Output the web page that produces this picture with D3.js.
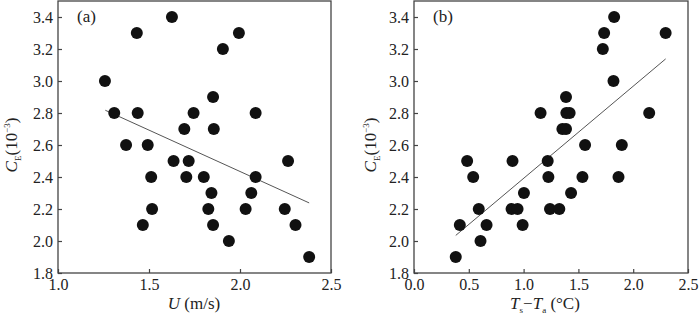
<!DOCTYPE html>
<html>
<head>
<meta charset="UTF-8">
<title>CE scatter</title>
<script src="https://cdn.jsdelivr.net/npm/d3@7"></script>
<style>
body { margin:0; background:#fff; }
svg { display:block; }
svg text { font-family:"Liberation Serif","Times New Roman",serif; }
</style>
</head>
<body>
<svg width="700" height="315"></svg>
<script>
// panel (a): wind speed U vs CE
const uVals = [1.626,1.433,1.994,1.906,1.258,1.309,1.438,1.745,2.086,1.852,1.694,1.856,1.374,1.493,
  1.635,1.718,2.264,1.512,1.705,1.801,2.086,1.843,2.062,1.517,1.826,2.031,2.246,1.466,1.852,2.305,1.939,2.380];
const ceA = [3.4,3.3,3.3,3.2,3.0,2.8,2.8,2.8,2.8,2.9,2.7,2.7,2.6,2.6,
  2.5,2.5,2.5,2.4,2.4,2.4,2.4,2.3,2.3,2.2,2.2,2.2,2.2,2.1,2.1,2.1,2.0,1.9];
const fitA = [[1.26,2.817],[2.38,2.238]];

// panel (b): Ts - Ta vs CE
const dtVals = [1.826,1.735,2.296,1.723,1.820,1.387,1.155,1.39,1.42,2.146,1.354,1.387,1.561,1.896,
  0.485,0.899,1.220,0.540,1.226,1.537,1.866,1.003,1.433,0.591,0.89,0.945,1.241,1.326,0.418,0.662,0.991,0.607,0.381];
const ceB = [3.4,3.3,3.3,3.2,3.0,2.9,2.8,2.8,2.8,2.8,2.7,2.7,2.6,2.6,
  2.5,2.5,2.5,2.4,2.4,2.4,2.4,2.3,2.3,2.2,2.2,2.2,2.2,2.2,2.1,2.1,2.1,2.0,1.9];
const fitB = [[0.381,2.035],[2.296,3.138]];

const yTicks = [1.8,2.0,2.2,2.4,2.6,2.8,3.0,3.2,3.4];
const xTicks = [0,0.5,1.0,1.5,2.0,2.5];

const svg = d3.select('svg');
const y = d3.scaleLinear().domain([1.8,3.5]).range([273,1]);

function panel(x0, x1, xDomain, xs, ys, fit, tag) {
  const x = d3.scaleLinear().domain(xDomain).range([x0,x1]);
  const g = svg.append('g');
  const xt = xTicks.filter(t => t >= xDomain[0] - 1e-9);
  g.append('g').attr('transform','translate(0,273)')
    .call(d3.axisBottom(x).tickValues(xt).tickFormat(d3.format('.1f')).tickSizeInner(-4).tickSizeOuter(0).tickPadding(6))
    .call(a => a.select('.domain').remove());
  g.append('g').attr('transform',`translate(${x0},0)`)
    .call(d3.axisLeft(y).tickValues(yTicks).tickFormat(d3.format('.1f')).tickSizeInner(-4).tickSizeOuter(0).tickPadding(5))
    .call(a => a.select('.domain').remove());
  g.selectAll('g').attr('font-family',null).attr('font-size',16);
  g.selectAll('.tick line').attr('stroke','#444').attr('stroke-width',1.2);
  g.selectAll('.tick text').attr('fill','#222');
  g.append('rect').attr('x',x0).attr('y',1).attr('width',x1-x0).attr('height',272)
    .attr('fill','none').attr('stroke','#444').attr('stroke-width',1.3);
  g.append('line')
    .attr('x1',x(fit[0][0])).attr('y1',y(fit[0][1]))
    .attr('x2',x(fit[1][0])).attr('y2',y(fit[1][1]))
    .attr('stroke','#555').attr('stroke-width',1);
  g.selectAll('circle').data(xs).enter().append('circle')
    .attr('cx',d => x(d)).attr('cy',(d,i) => y(ys[i])).attr('r',6).attr('fill','#111');
  g.append('text').attr('x',x0+19).attr('y',22).attr('font-size',17).attr('fill','#222').text(tag);
  return x;
}

panel(58, 331, [1.0,2.5], uVals, ceA, fitA, '(a)');
panel(414, 688, [0,2.5], dtVals, ceB, fitB, '(b)');

function yLabel(cx) {
  const t = svg.append('text').attr('transform',`translate(${cx},145) rotate(-90)`)
    .attr('text-anchor','middle').attr('font-size',17).attr('fill','#222');
  t.append('tspan').attr('font-style','italic').text('C');
  t.append('tspan').attr('font-size',9).attr('dy',4).text('E');
  t.append('tspan').attr('dy',-4).text('(10');
  t.append('tspan').attr('font-size',9).attr('dy',-7).text('−3');
  t.append('tspan').attr('dy',7).text(')');
}
yLabel(17);
yLabel(376);

const xa = svg.append('text').attr('x',194).attr('y',309).attr('text-anchor','middle')
  .attr('font-size',17).attr('fill','#222');
xa.append('tspan').attr('font-style','italic').text('U');
xa.append('tspan').text(' (m/s)');

const xb = svg.append('text').attr('x',545).attr('y',309).attr('text-anchor','middle')
  .attr('font-size',17).attr('fill','#222');
xb.append('tspan').attr('font-style','italic').text('T');
xb.append('tspan').attr('font-size',9).attr('dy',4).text('s');
xb.append('tspan').attr('dy',-4).text('−');
xb.append('tspan').attr('font-style','italic').text('T');
xb.append('tspan').attr('font-size',9).attr('dy',4).text('a');
xb.append('tspan').attr('dy',-4).text(' (°C)');
</script>
</body>
</html>
